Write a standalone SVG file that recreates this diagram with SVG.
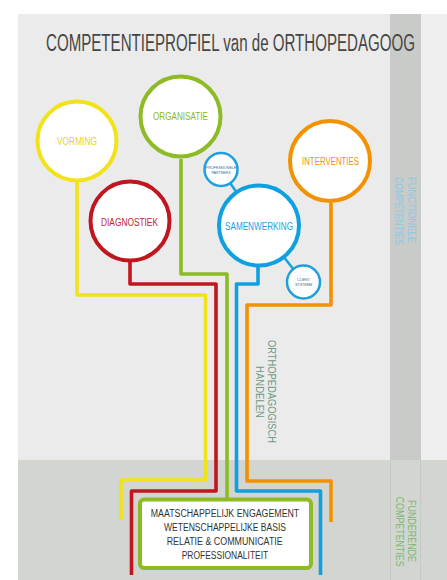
<svg xmlns="http://www.w3.org/2000/svg" width="447" height="580" viewBox="0 0 447 580">
<style>
  text { font-family: "Liberation Sans", Arial, sans-serif; }
  .circ { fill: #ffffff; stroke-width: 4; }
  .lbl { font-size: 10px; text-anchor: middle; lengthAdjust: spacingAndGlyphs; }
  .small { fill: #ffffff; stroke: #1ea0dc; stroke-width: 2.5; }
  .tiny { font-size: 3.6px; text-anchor: middle; fill: #2a6a90; }
  .wire { fill: none; stroke-width: 3.6; stroke-linejoin: round; }
  .box { font-size: 10px; text-anchor: middle; fill: #333333; }
  .vert { font-size: 10px; text-anchor: middle; }
</style>
<!-- background -->
<rect x="0" y="0" width="447" height="580" fill="#ffffff"/>
<rect x="18" y="14" width="429" height="566" fill="#ebebeb"/>
<rect x="421" y="14" width="26" height="446" fill="#efefef"/>
<rect x="390" y="14" width="31" height="446" fill="#c9cbc9"/>
<rect x="18" y="460" width="429" height="120" fill="#d3d5d0"/>
<line x1="390.5" y1="460" x2="390.5" y2="580" stroke="#c6c9c3" stroke-width="1"/>
<line x1="420.5" y1="460" x2="420.5" y2="580" stroke="#c6c9c3" stroke-width="1"/>

<text x="46" y="50.5" font-size="23" fill="#454545" textLength="369" lengthAdjust="spacingAndGlyphs">COMPETENTIEPROFIEL van de ORTHOPEDAGOOG</text>

<!-- connectors -->
<g id="connectors">
  <path class="wire" stroke="#f2e21a" d="M77,182 V295 H205.5 V480 H121 V520"/>
  <path class="wire" stroke="#c1161f" d="M130,262 V284 H216 V491 H131.5 V575"/>
  <path class="wire" stroke="#8dbb25" d="M181,159 V274 H227 V500"/>
  <path class="wire" stroke="#0ea0e0" d="M258,267 V284 H236.5 V491 H320.5 V575"/>
  <path class="wire" stroke="#f39200" d="M331,203 V305 H247 V481 H331 V522"/>
  <line x1="221" y1="169.5" x2="259" y2="225.5" stroke="#1ea0dc" stroke-width="2.5"/>
  <line x1="303.5" y1="282" x2="259" y2="225.5" stroke="#1ea0dc" stroke-width="2.5"/>
</g>

<g id="vorming">
  <circle class="circ" cx="77" cy="141" r="39.5" stroke="#f2e21a"/>
  <text class="lbl" x="77" y="144.5" fill="#e6d41c" textLength="40" lengthAdjust="spacingAndGlyphs">VORMING</text>
</g>
<g id="organisatie">
  <circle class="circ" cx="180.5" cy="116.5" r="40" stroke="#8dbb25"/>
  <text class="lbl" x="180.5" y="120" fill="#8dbb25" textLength="55" lengthAdjust="spacingAndGlyphs">ORGANISATIE</text>
</g>
<g id="interventies">
  <circle class="circ" cx="330" cy="161" r="40" stroke="#f39200"/>
  <text class="lbl" x="330.5" y="164.5" fill="#f39200" textLength="57" lengthAdjust="spacingAndGlyphs">INTERVENTIES</text>
</g>
<g id="diagnostiek">
  <circle class="circ" cx="130" cy="221" r="39.5" stroke="#c1161f"/>
  <text class="lbl" x="129.5" y="225.5" fill="#c1272d" textLength="57" lengthAdjust="spacingAndGlyphs">DIAGNOSTIEK</text>
</g>
<g id="samenwerking">
  <circle class="circ" cx="259" cy="225.5" r="40" stroke="#0ea0e0"/>
  <text class="lbl" x="259" y="229.5" fill="#1ea0dc" textLength="68" lengthAdjust="spacingAndGlyphs">SAMENWERKING</text>
</g>
<g id="partners">
  <circle class="small" cx="221" cy="169.5" r="16.5"/>
  <text class="tiny" x="221" y="169">PROFESSIONELE</text>
  <text class="tiny" x="221" y="173.5">PARTNERS</text>
</g>
<g id="clientsysteem">
  <circle class="small" cx="303.5" cy="282" r="16.5"/>
  <text class="tiny" x="303.5" y="281">CLIENT</text>
  <text class="tiny" x="303.5" y="285.5">SYSTEEM</text>
</g>

<g id="fundament">
  <rect x="140" y="499.5" width="171" height="68.5" rx="4" fill="#ffffff" stroke="#8dbb25" stroke-width="4"/>
  <text class="box" x="225" y="517" textLength="148.5" lengthAdjust="spacingAndGlyphs">MAATSCHAPPELIJK ENGAGEMENT</text>
  <text class="box" x="225" y="531" textLength="122" lengthAdjust="spacingAndGlyphs">WETENSCHAPPELIJKE BASIS</text>
  <text class="box" x="224.7" y="545" textLength="116" lengthAdjust="spacingAndGlyphs">RELATIE &amp; COMMUNICATIE</text>
  <text class="box" x="225" y="558.7" textLength="86.6" lengthAdjust="spacingAndGlyphs">PROFESSIONALITEIT</text>
</g>

<g id="labels">
  <text class="vert" fill="#8cc8e8" transform="translate(408,210) rotate(90)" textLength="66" lengthAdjust="spacingAndGlyphs">FUNCTIONELE</text>
  <text class="vert" fill="#8cc8e8" transform="translate(394.5,211) rotate(90)" textLength="68" lengthAdjust="spacingAndGlyphs">COMPETENTIES</text>
  <text class="vert" fill="#78b870" transform="translate(408.3,531) rotate(90)" textLength="62" lengthAdjust="spacingAndGlyphs">FUNDERENDE</text>
  <text class="vert" fill="#78b870" transform="translate(395.8,531.7) rotate(90)" textLength="70" lengthAdjust="spacingAndGlyphs">COMPETENTIES</text>
  <text class="vert" fill="#6f9a80" font-size="11" transform="translate(268,391.5) rotate(90)" textLength="103" lengthAdjust="spacingAndGlyphs">ORTHOPEDAGOGISCH</text>
  <text class="vert" fill="#6f9a80" font-size="11" transform="translate(255.5,392) rotate(90)" textLength="52" lengthAdjust="spacingAndGlyphs">HANDELEN</text>
</g>
</svg>
